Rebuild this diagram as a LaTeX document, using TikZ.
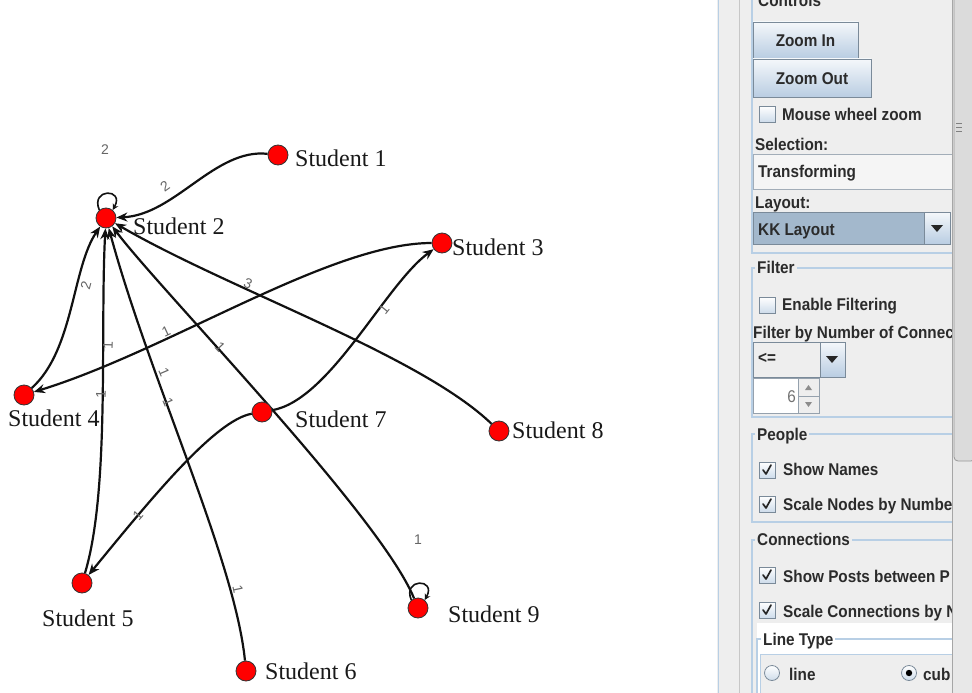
\documentclass[tikz,border=0pt]{standalone}
\usepackage{fontspec}
\usepackage{graphicx}
\setmainfont{Liberation Serif}
\newfontfamily\uifont{Liberation Sans}
\usetikzlibrary{arrows.meta}
\definecolor{panelbg}{HTML}{EEEEEE}
\definecolor{grp}{HTML}{B8CFE5}
\definecolor{uitxt}{HTML}{2B2B2B}
\definecolor{btnbot}{HTML}{B9CDE2}
\definecolor{btnbd}{HTML}{7A8A99}
\definecolor{selbg}{HTML}{A3B8CC}
\definecolor{lblgray}{HTML}{666666}
\definecolor{edgec}{HTML}{111111}
\definecolor{nodered}{HTML}{FF0000}
\newcommand{\uitext}[1]{{\uifont\bfseries\fontsize{17}{17}\selectfont\scalebox{0.9}[1]{#1}}}
\pgfdeclarelayer{bgl}
\pgfdeclarelayer{edges}
\pgfsetlayers{bgl,edges,main}
\tikzset{
  stu/.style={circle, fill=nodered, draw=black!80, line width=0.8pt, minimum size=20pt, inner sep=0pt},
  stulbl/.style={anchor=base west, inner sep=0pt, font=\fontsize{24}{24}\selectfont, text=black!90},
  edgeline/.style={draw=edgec, line width=2.2pt, -{Stealth[length=11pt,width=9pt]}},
  loopline/.style={draw=edgec, line width=1.6pt, -{Stealth[length=6pt,width=6pt]}},
  elbl/.style={inner sep=0pt, text=lblgray, font=\uifont\fontsize{14}{14}\selectfont},
  uit/.style={anchor=base west, inner sep=0pt, text=uitxt},
  grptitle/.style={anchor=base west, inner xsep=2pt, inner ysep=1pt, text=uitxt, fill=panelbg},
  cbox/.style={draw=btnbd, line width=0.8pt, top color=white, bottom color=btnbot!70},
  btn/.style={draw=btnbd, line width=0.8pt, top color=white!85!btnbot, bottom color=btnbot},
  grpline/.style={draw=grp, line width=1.2pt},
  tick/.style={draw=black!85, line width=1.7pt, line cap=round, line join=round},
  tri/.style={fill=black!85}
}
\begin{document}
\begin{tikzpicture}[x=1pt,y=-1pt]
\useasboundingbox (0,0) rectangle (972,693);
\begin{pgfonlayer}{bgl}
\fill[white] (0,0) rectangle (972,693);
\end{pgfonlayer}
% ---------- graph ----------
\node[stu] (s1) at (278,155) {};
\node[stu] (s2) at (106,218) {};
\node[stu] (s3) at (442,243) {};
\node[stu] (s4) at (24,395) {};
\node[stu] (s5) at (82,583) {};
\node[stu] (s6) at (246,671) {};
\node[stu] (s7) at (262,412) {};
\node[stu] (s8) at (499,431) {};
\node[stu] (s9) at (418,608) {};
\begin{pgfonlayer}{edges}
\draw[edgeline] (s1) .. controls (215,148) and (175,215) .. (s2);
\draw[edgeline] (s4) .. controls (74,350) and (72,268) .. (s2);
\draw[edgeline] (s5) .. controls (110,490) and (100,330) .. (s2);
\draw[edgeline] (s6) .. controls (235,560) and (150,380) .. (s2);
\draw[edgeline] (s9) .. controls (380,515) and (160,290) .. (s2);
\draw[edgeline] (s8) .. controls (420,355) and (230,290) .. (s2);
\draw[edgeline] (s3) .. controls (330,243) and (170,350) .. (s4);
\draw[edgeline] (s7) .. controls (330,400) and (385,285) .. (s3);
\draw[edgeline] (s7) .. controls (215,420) and (150,500) .. (s5);
\draw[loopline] (s2.130) .. controls (90,188) and (125,188) .. (s2.50);
\draw[loopline] (s9.130) .. controls (402,578) and (437,578) .. (s9.50);
\end{pgfonlayer}
\node[stulbl] (l1) at (295,166) {Student 1};
\node[stulbl] (l2) at (133,234) {Student 2};
\node[stulbl] (l3) at (452,255) {Student 3};
\node[stulbl] (l4) at (8,426) {Student 4};
\node[stulbl] (l5) at (42,626) {Student 5};
\node[stulbl] (l6) at (265,679) {Student 6};
\node[stulbl] (l7) at (295,427) {Student 7};
\node[stulbl] (l8) at (512,438) {Student 8};
\node[stulbl] (l9) at (448,622) {Student 9};
% edge labels
\node[elbl] (w1) at (105,150) {2};
\node[elbl, rotate=35] (w2) at (165,186) {2};
\node[elbl, rotate=-23] (w3) at (248,284) {3};
\node[elbl, rotate=75] (w4) at (86,285) {2};
\node[elbl, rotate=88] (w5) at (108,345) {1};
\node[elbl, rotate=88] (w6) at (101,394) {1};
\node[elbl, rotate=25] (w7) at (166,331) {1};
\node[elbl, rotate=-67] (w8) at (164,372) {1};
\node[elbl, rotate=-67] (w9) at (168,402) {1};
\node[elbl, rotate=-47] (w10) at (220,347) {1};
\node[elbl, rotate=51] (w11) at (384,309) {1};
\node[elbl, rotate=48] (w12) at (138,515) {1};
\node[elbl, rotate=-78] (w13) at (238,589) {1};
\node[elbl] (w14) at (418,540) {1};
% ---------- control panel ----------
\begin{scope}
\clip (0,0) rectangle (972,693);
\fill[panelbg] (717,0) rectangle (972,693);
\draw[grp, line width=1.5pt] (718.5,0) -- (718.5,693);
\draw[black!22, line width=0.8pt] (739.5,0) -- (739.5,693);
% Controls group
\draw[grpline] (752,-5) -- (752,253) -- (960,253);
\node[uit] (tcontrols) at (758,7) {\uitext{Controls}};
\path[btn] (753,22) rectangle (858,58);
\node[inner sep=0pt, text=uitxt] (tzin) at (805.5,40.5) {\uitext{Zoom In}};
\path[btn] (753,59) rectangle (871,97);
\node[inner sep=0pt, text=uitxt] (tzout) at (812,78.5) {\uitext{Zoom Out}};
\path[cbox] (759,106) rectangle (775,122);
\node[uit] (tmw) at (782,120) {\uitext{Mouse wheel zoom}};
\node[uit] (tsel) at (755,150) {\uitext{Selection:}};
\path[draw=btnbd!70, line width=0.8pt, fill=white!40!panelbg] (753,154) rectangle (956,189);
\node[uit] (ttrans) at (758,177) {\uitext{Transforming}};
\node[uit] (tlay) at (755,208) {\uitext{Layout:}};
\path[draw=btnbd, line width=0.8pt, fill=selbg] (753,212) rectangle (924,244);
\path[btn] (924,212) rectangle (950,244);
\fill[tri] (931,225) -- (943,225) -- (937,232) -- cycle;
\node[uit] (tkk) at (758,235) {\uitext{KK Layout}};
% Filter group
\draw[grpline] (960,268) -- (752,268) -- (752,417) -- (960,417);
\node[grptitle] (tfilter) at (755,273) {\uitext{Filter}};
\path[cbox] (759,297) rectangle (775,313);
\node[uit] (tenable) at (782,310) {\uitext{Enable Filtering}};
\node[uit] (tfby) at (753,338) {\uitext{Filter by Number of Connec}};
\path[draw=btnbd, line width=0.8pt, fill=panelbg] (753,342) rectangle (820,377);
\path[btn] (820,342) rectangle (845,377);
\fill[tri] (826,356) -- (838,356) -- (832,363) -- cycle;
\node[uit] (tle) at (758,363) {\uitext{<=}};
\path[draw=btnbd!80, line width=0.8pt, fill=white] (753,378) rectangle (798,413);
\path[draw=btnbd!80, line width=0.6pt, fill=panelbg] (798,378) rectangle (819,396);
\path[draw=btnbd!80, line width=0.6pt, fill=panelbg] (798,396) rectangle (819,413);
\fill[black!45] (805,390) -- (812,390) -- (808.5,385) -- cycle;
\fill[black!45] (805,402) -- (812,402) -- (808.5,407) -- cycle;
\node[inner sep=0pt, anchor=base east, text=black!55] (tsix) at (796,402) {\uitext{\mdseries 6}};
% People group
\draw[grpline] (960,434) -- (752,434) -- (752,522) -- (960,522);
\node[grptitle] (tpeople) at (755,440) {\uitext{People}};
\path[cbox] (759,462) rectangle (775,478);
\draw[tick] (763,470) -- (766,474) -- (771,465);
\node[uit] (tnames) at (783,475) {\uitext{Show Names}};
\path[cbox] (759,496) rectangle (775,512);
\draw[tick] (763,504) -- (766,508) -- (771,499);
\node[uit] (tscalen) at (783,510) {\uitext{Scale Nodes by Numbe}};
% Connections group
\draw[grpline] (960,540) -- (752,540) -- (752,700);
\node[grptitle] (tconn) at (755,545) {\uitext{Connections}};
\path[cbox] (759,567) rectangle (775,583);
\draw[tick] (763,575) -- (766,579) -- (771,570);
\node[uit] (tposts) at (783,582) {\uitext{Show Posts between P}};
\path[cbox] (759,602) rectangle (775,618);
\draw[tick] (763,610) -- (766,614) -- (771,605);
\node[uit] (tscalec) at (783,617) {\uitext{Scale Connections by N}};
% Line type
\fill[white] (757,623) rectangle (960,700);
\draw[grpline] (960,639) -- (757,639) -- (757,700);
\path[draw=grp, line width=0.8pt, fill=panelbg] (760,654) rectangle (960,700);
\node[grptitle, fill=white] (tline) at (761,645) {\uitext{Line Type}};
\path[cbox] (772,673) circle (7.5);
\node[uit] (tlinel) at (789,680) {\uitext{line}};
\path[cbox] (909,673) circle (7.5);
\fill[black] (909,673) circle (3.2);
\node[uit] (tcub) at (923,680) {\uitext{cub}};
% scrollbar
\fill[black!9] (952,0) rectangle (972,693);
\draw[black!35, line width=0.8pt] (952,0) -- (952,693);
\path[draw=black!40, fill=black!14, rounded corners=4pt, line width=0.8pt] (954,-10) rectangle (975,461);
\draw[black!50, line width=0.8pt] (956,123) -- (962,123) (956,127) -- (962,127) (956,131) -- (962,131);
\end{scope}
\end{tikzpicture}
\end{document}
